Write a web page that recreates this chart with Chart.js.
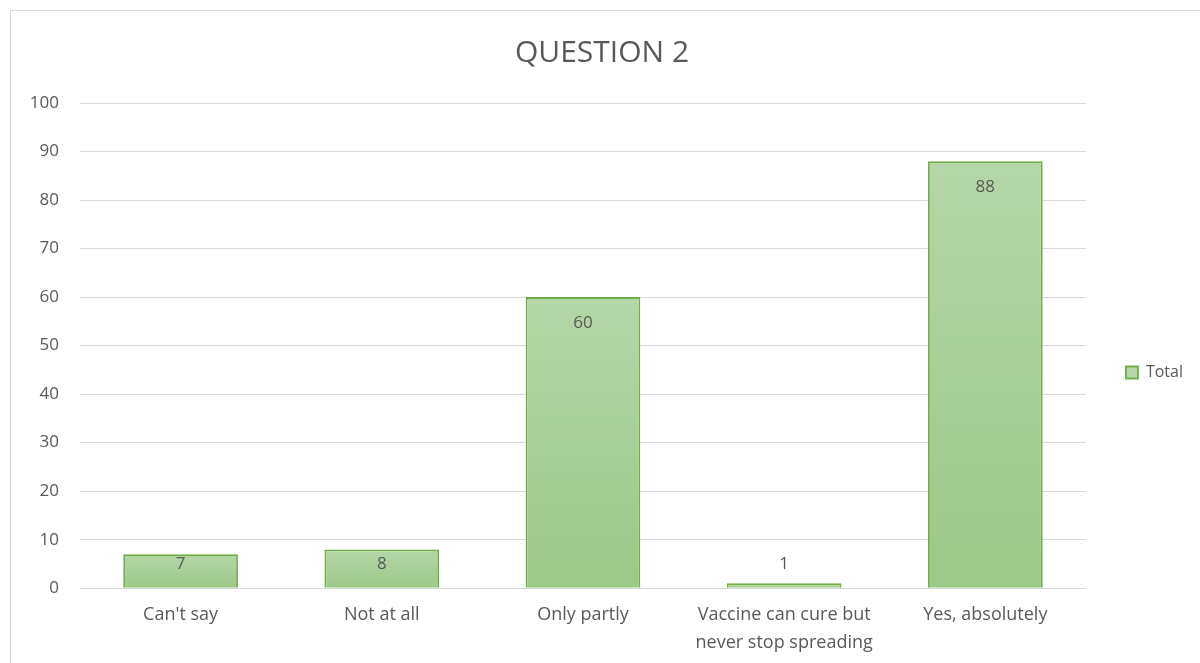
<!DOCTYPE html>
<html>
<head>
<meta charset="utf-8">
<script src="https://cdn.jsdelivr.net/npm/chart.js@4.4.0/dist/chart.umd.min.js"></script>
<style>
  body { margin: 0; background: #fff; overflow: hidden; }
  .chart-box {
    position: absolute;
    left: 10px;
    top: 10px;
    width: 1200px;
    height: 670px;
    border: 1px solid #d9d9d9;
    background: #fff;
  }
</style>
</head>
<body>
<div class="chart-box">
  <canvas id="myChart" width="1200" height="670"></canvas>
</div>
<script>
const categories = [
  "Can't say",
  "Not at all",
  "Only partly",
  ["Vaccine can cure but", "never stop spreading"],
  "Yes, absolutely"
];
const totals = [7, 8, 60, 1, 88];
const yTicks = [0, 10, 20, 30, 40, 50, 60, 70, 80, 90, 100];

const textGray = "#595959";
const fontName = "'Open Sans', Lato, sans-serif";

// gradient per bar, light at the top
function barFill(context) {
  const chart = context.chart;
  const y = chart.scales.y;
  if (!chart.chartArea || !y || context.raw === undefined) return "#a9d08e";
  const top = y.getPixelForValue(context.raw);
  const bottom = y.getPixelForValue(0);
  if (!isFinite(top) || !isFinite(bottom) || top === bottom) return "#a9d08e";
  const g = chart.ctx.createLinearGradient(0, top, 0, bottom);
  g.addColorStop(0, "#b5d6a7");
  g.addColorStop(1, "#9cc987");
  return g;
}

// value labels, inside end of the bar
const valueLabels = {
  id: "valueLabels",
  afterDatasetsDraw(chart) {
    const ctx = chart.ctx;
    const zero = chart.scales.y.getPixelForValue(0);
    chart.data.datasets.forEach(function(ds, di) {
      const meta = chart.getDatasetMeta(di);
      meta.data.forEach(function(bar, i) {
        const y = Math.min(bar.y + 26, zero - 24);
        ctx.save();
        ctx.font = "17px " + fontName;
        ctx.fillStyle = textGray;
        ctx.textAlign = "center";
        ctx.textBaseline = "middle";
        ctx.fillText(String(ds.data[i]), bar.x, y);
        ctx.restore();
      });
    });
  }
};

const ctx = document.getElementById("myChart").getContext("2d");

const chart = new Chart(ctx, {
  type: "bar",
  data: {
    labels: categories,
    datasets: [
      {
        label: "Total",
        data: totals,
        backgroundColor: barFill,
        borderColor: "#70ad47",
        borderWidth: 1.8,
        barPercentage: 0.57,
        categoryPercentage: 1
      }
    ]
  },
  options: {
    responsive: false,
    animation: false,
    layout: { padding: { left: 0, right: 18, top: 0, bottom: 19 } },
    plugins: {
      title: {
        display: true,
        text: "QUESTION 2",
        color: textGray,
        font: { family: fontName, size: 30, weight: "normal" },
        padding: { top: 24, bottom: 32 }
      },
      legend: {
        position: "right",
        title: {
          display: true,
          text: " ",
          font: { size: 10 },
          padding: { top: 60, bottom: 0 }
        },
        labels: {
          color: textGray,
          font: { family: fontName, size: 16 },
          boxWidth: 12,
          boxHeight: 12,
          padding: 40
        }
      },
      tooltip: { enabled: false }
    },
    scales: {
      x: {
        grid: { display: false },
        border: { display: false },
        ticks: {
          color: textGray,
          font: { family: fontName, size: 18, lineHeight: 1.55 },
          maxRotation: 0,
          autoSkip: false,
          padding: 5
        }
      },
      y: {
        min: 0,
        max: 100,
        afterBuildTicks: function(axis) {
          axis.ticks = yTicks.map(function(v) { return { value: v }; });
        },
        afterFit: function(axis) {
          axis.width = 69;
        },
        grid: { color: "#d9d9d9", drawTicks: false },
        border: { display: false },
        ticks: {
          color: textGray,
          font: { family: fontName, size: 17 },
          padding: 21
        }
      }
    }
  },
  plugins: [valueLabels]
});
</script>
</body>
</html>
